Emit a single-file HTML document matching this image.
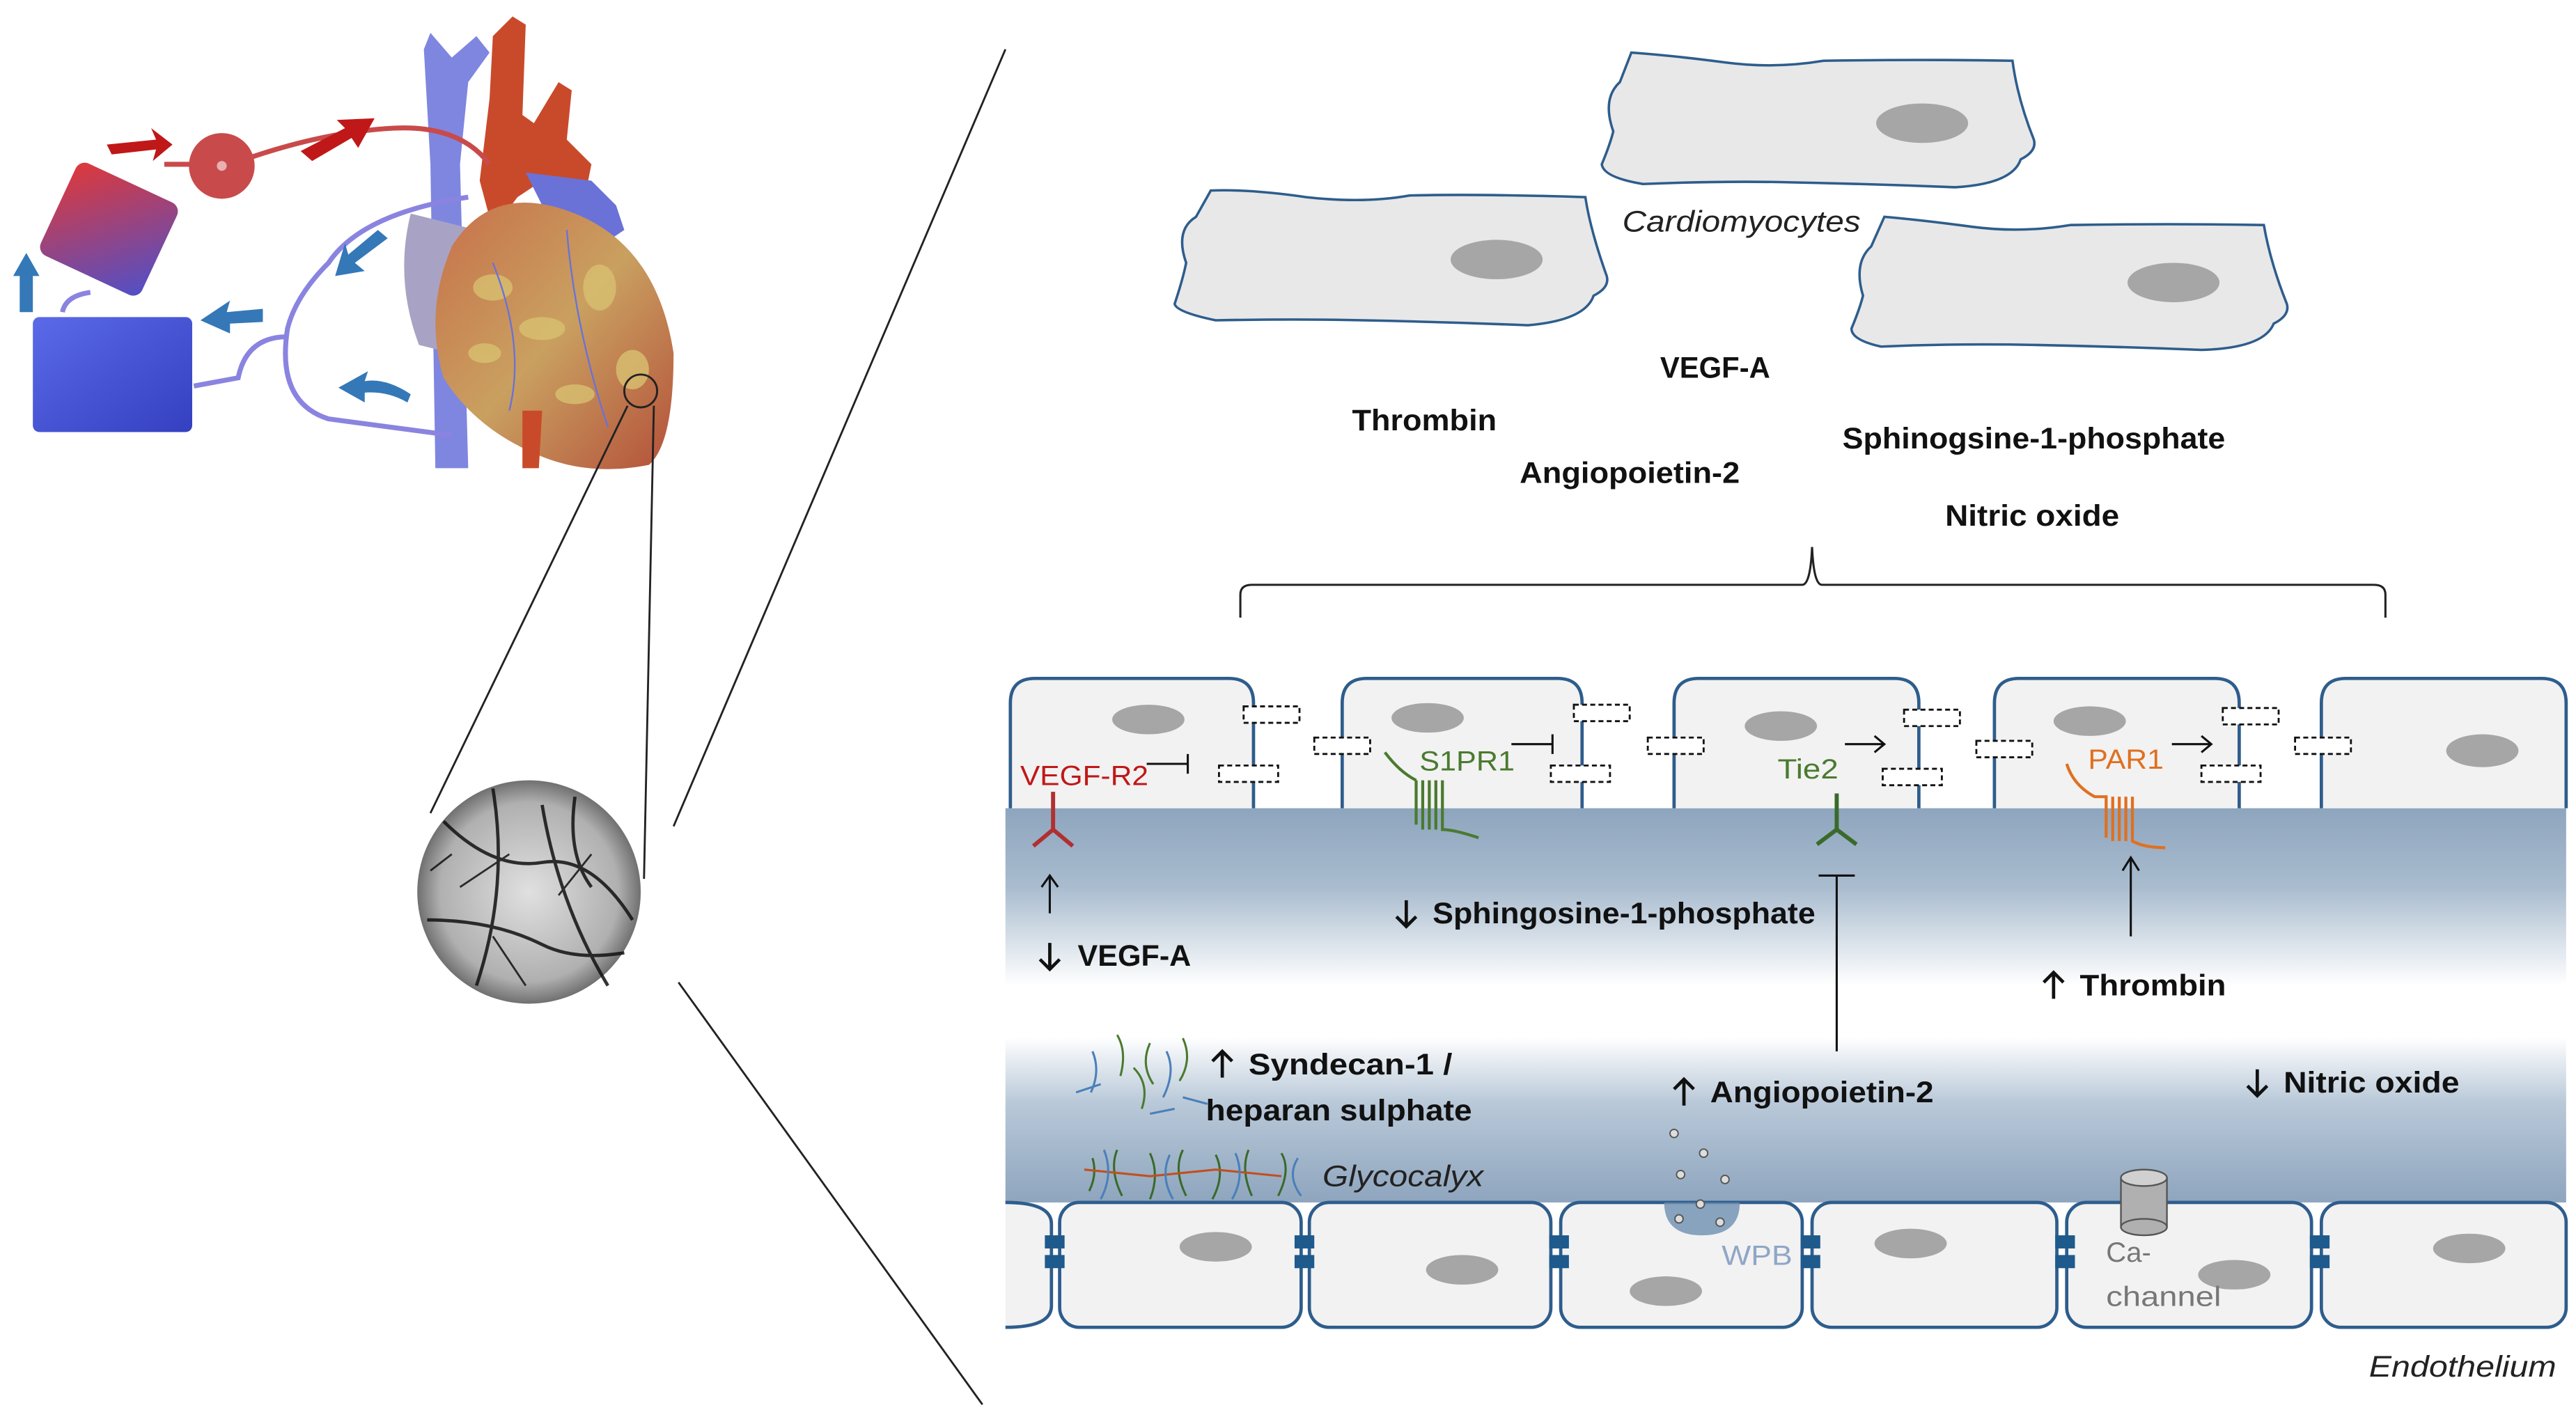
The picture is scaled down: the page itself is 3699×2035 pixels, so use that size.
<!DOCTYPE html>
<html><head><meta charset="utf-8"><style>html,body{margin:0;padding:0;background:#fff}svg{display:block}</style></head><body>
<svg width="3699" height="2035" viewBox="0 0 1568 862.6" preserveAspectRatio="none" xmlns="http://www.w3.org/2000/svg" font-family="Liberation Sans, sans-serif">
<defs>
<linearGradient id="band" x1="0" y1="0" x2="0" y2="1">
<stop offset="0" stop-color="#8ea5be"/>
<stop offset="0.2" stop-color="#a9bccf"/>
<stop offset="0.45" stop-color="#ffffff"/>
<stop offset="0.58" stop-color="#ffffff"/>
<stop offset="0.75" stop-color="#b8c8d8"/>
<stop offset="1" stop-color="#8ea5be"/>
</linearGradient>
<radialGradient id="ang" cx="0.5" cy="0.5" r="0.5"><stop offset="0" stop-color="#e0e0e0"/><stop offset="0.8" stop-color="#b0b0b0"/><stop offset="1" stop-color="#707070"/></radialGradient>
<linearGradient id="heartg" x1="0" y1="0" x2="1" y2="1"><stop offset="0" stop-color="#c8704a"/><stop offset="0.5" stop-color="#c9a060"/><stop offset="1" stop-color="#b4503a"/></linearGradient>
<linearGradient id="oxy" x1="0" y1="0" x2="1" y2="1"><stop offset="0" stop-color="#e03838"/><stop offset="1" stop-color="#5050c8"/></linearGradient>
<linearGradient id="res" x1="0" y1="0" x2="1" y2="1"><stop offset="0" stop-color="#5a6ae8"/><stop offset="1" stop-color="#3440c0"/></linearGradient>
</defs>
<rect width="1568" height="863" fill="#fff"/>

<!-- Left heart illustration -->
<g>
<path d="M258 30 L262 20 L275 35 L290 22 L298 32 L285 50 L280 100 L285 285 L265 285 L262 100 Z" fill="#7f86e0"/>
<path d="M300 22 L312 10 L320 15 L318 70 L325 75 L340 50 L348 55 L345 85 L360 100 L355 125 L330 110 L315 120 L300 140 L292 110 L298 60 Z" fill="#c94a2a"/>
<path d="M250 130 Q240 170 255 210 L275 215 L290 140 Z" fill="#a8a3c4"/>
<path d="M320 105 L360 110 L375 125 L380 140 L365 150 L335 135 Z" fill="#6a72d8"/>
<path d="M275 150 Q300 110 350 130 Q400 150 410 215 Q410 270 395 283 Q360 290 330 278 Q290 262 270 230 Q258 190 275 150 Z" fill="url(#heartg)"/>
<g fill="#d8c070" opacity="0.8">
<ellipse cx="300" cy="175" rx="12" ry="8"/><ellipse cx="330" cy="200" rx="14" ry="7"/><ellipse cx="365" cy="175" rx="10" ry="14"/><ellipse cx="385" cy="225" rx="10" ry="12"/><ellipse cx="295" cy="215" rx="10" ry="6"/><ellipse cx="350" cy="240" rx="12" ry="6"/>
</g>
<g stroke="#6a72d8" stroke-width="1" fill="none"><path d="M345 140 Q350 200 370 260"/><path d="M300 160 Q320 210 310 250"/></g>
<path d="M318 250 L330 250 L328 285 L318 285 Z" fill="#c94a2a"/>
<!-- tubes -->
<path d="M100 100 L125 100 Q140 100 155 95 Q200 80 240 78 Q280 76 298 100" fill="none" stroke="#c94a4a" stroke-width="3"/>
<path d="M285 120 Q220 130 200 160 Q180 180 175 200 Q168 245 200 255 L275 265" fill="none" stroke="#8a84e0" stroke-width="3"/>
<path d="M175 205 Q150 205 145 230 L118 235" fill="none" stroke="#8a84e0" stroke-width="3"/>
<path d="M38 190 Q40 180 55 178" fill="none" stroke="#8a84e0" stroke-width="3"/>
<circle cx="135" cy="101" r="20" fill="#c94a4a"/>
<circle cx="135" cy="101" r="3" fill="#e8b0b0"/>
<g transform="rotate(25 65 140)"><rect x="32" y="108" width="68" height="62" rx="6" fill="url(#oxy)"/></g>
<rect x="20" y="193" width="97" height="70" rx="4" fill="url(#res)"/>
<!-- arrows -->
<path d="M65 88 L95 85 L92 78 L105 88 L93 98 L95 91 L68 94 Z" fill="#c01818"/>
<path d="M183 92 L210 78 L205 73 L228 72 L218 90 L214 84 L190 98 Z" fill="#c01818"/>
<path d="M12 190 L12 168 L8 168 L16 154 L24 168 L20 168 L20 190 Z" fill="#3478b8"/>
<path d="M230 140 L212 155 L210 148 L204 168 L222 165 L216 160 L236 145 Z" fill="#3478b8"/>
<path d="M160 188 L138 190 L140 183 L122 195 L140 203 L140 197 L160 196 Z" fill="#3478b8"/>
<path d="M250 240 Q235 230 222 232 L224 226 L206 236 L222 245 L222 239 Q236 238 248 245 Z" fill="#3478b8"/>
<circle cx="390" cy="238" r="10" fill="none" stroke="#222" stroke-width="1.2"/>
</g>
<line x1="382" y1="247" x2="262" y2="495" stroke="#222" stroke-width="1.2"/>
<line x1="398" y1="247" x2="392" y2="535" stroke="#222" stroke-width="1.2"/>
<circle cx="322" cy="543" r="68" fill="url(#ang)"/>
<g stroke="#111" stroke-width="2" fill="none" opacity="0.85">
<path d="M270 500 Q300 530 330 525 Q360 520 385 560"/><path d="M300 480 Q310 540 290 600"/><path d="M330 490 Q340 550 370 600"/><path d="M260 560 Q300 560 330 575 Q350 585 380 580"/><path d="M350 485 Q345 520 360 540"/>
<path d="M310 520 L280 540 M340 545 L360 520 M300 570 L320 600 M275 520 L262 530" stroke-width="1.2"/>
</g>
<line x1="612" y1="30" x2="410" y2="503" stroke="#222" stroke-width="1.2"/>
<line x1="413" y1="598" x2="598" y2="855" stroke="#222" stroke-width="1.2"/>

<!-- Cardiomyocytes -->
<g fill="#e8e8e8" stroke="#2e5d8c" stroke-width="1.5">
<path d="M737 116 Q760 115 795 120 Q830 124 858 119 Q900 118 965 120 Q968 140 978 168 Q980 175 970 180 Q965 195 930 198 Q880 196 830 195 Q790 194 740 195 Q716 190 715 185 Q720 170 722 160 Q715 140 728 132 Z"/>
<path d="M993 32 Q1020 34 1050 38 Q1080 42 1110 37 Q1170 36 1225 37 Q1228 60 1238 85 Q1240 92 1230 97 Q1225 112 1190 114 Q1140 112 1090 111 Q1050 110 1000 112 Q976 108 975 100 Q980 88 982 80 Q975 60 986 50 Z"/>
<path d="M1147 132 Q1170 134 1200 138 Q1230 142 1260 137 Q1320 136 1378 137 Q1382 160 1392 185 Q1394 192 1384 197 Q1378 212 1340 213 Q1290 211 1240 210 Q1190 209 1145 211 Q1127 207 1127 200 Q1132 188 1134 180 Q1128 160 1139 150 Z"/>
</g>
<g fill="#a6a6a6"><ellipse cx="911" cy="158" rx="28" ry="12"/><ellipse cx="1170" cy="75" rx="28" ry="12"/><ellipse cx="1323" cy="172" rx="28" ry="12"/></g>
<text x="1060" y="141" font-size="18" font-style="italic" text-anchor="middle" fill="#222" textLength="145" lengthAdjust="spacingAndGlyphs">Cardiomyocytes</text>
<g font-size="18" font-weight="bold" fill="#111" text-anchor="middle">
<text x="1044" y="230" textLength="67" lengthAdjust="spacingAndGlyphs">VEGF-A</text>
<text x="867" y="262" textLength="88" lengthAdjust="spacingAndGlyphs">Thrombin</text>
<text x="992" y="294" textLength="134" lengthAdjust="spacingAndGlyphs">Angiopoietin-2</text>
<text x="1238" y="273" textLength="233" lengthAdjust="spacingAndGlyphs">Sphinogsine-1-phosphate</text>
<text x="1237" y="320" textLength="106" lengthAdjust="spacingAndGlyphs">Nitric oxide</text>
</g>
<path d="M755 376 L755 362 Q755 356 762 356 L1097 356 Q1102 356 1103 333 Q1104 356 1109 356 L1445 356 Q1452 356 1452 362 L1452 376" fill="none" stroke="#222" stroke-width="1.3"/>

<!-- Endothelium band -->
<rect x="612" y="492" width="950" height="240" fill="url(#band)"/>
<g fill="#f2f2f2" stroke="#2e5d8c" stroke-width="2">
<path d="M615 492 L615 428 Q615 413 630 413 L748 413 Q763 413 763 428 L763 492"/>
<path d="M817 492 L817 428 Q817 413 832 413 L948 413 Q963 413 963 428 L963 492"/>
<path d="M1019 492 L1019 428 Q1019 413 1034 413 L1153 413 Q1168 413 1168 428 L1168 492"/>
<path d="M1214 492 L1214 428 Q1214 413 1229 413 L1348 413 Q1363 413 1363 428 L1363 492"/>
<path d="M1413 492 L1413 428 Q1413 413 1428 413 L1547 413 Q1562 413 1562 428 L1562 492"/>
<path d="M612 732 Q640 732 640 745 L640 795 Q640 808 612 808"/>
<rect x="645" y="732" width="147" height="76" rx="12"/>
<rect x="797" y="732" width="147" height="76" rx="12"/>
<rect x="950" y="732" width="147" height="76" rx="12"/>
<rect x="1103" y="732" width="149" height="76" rx="12"/>
<rect x="1258" y="732" width="149" height="76" rx="12"/>
<rect x="1413" y="732" width="149" height="76" rx="12"/>
</g>
<g fill="#a6a6a6">
<ellipse cx="699" cy="438" rx="22" ry="9"/><ellipse cx="869" cy="437" rx="22" ry="9"/><ellipse cx="1084" cy="442" rx="22" ry="9"/><ellipse cx="1272" cy="439" rx="22" ry="9"/><ellipse cx="1511" cy="457" rx="22" ry="10"/>
<ellipse cx="740" cy="759" rx="22" ry="9"/><ellipse cx="890" cy="773" rx="22" ry="9"/><ellipse cx="1014" cy="786" rx="22" ry="9"/><ellipse cx="1163" cy="757" rx="22" ry="9"/><ellipse cx="1360" cy="776" rx="22" ry="9"/><ellipse cx="1503" cy="760" rx="22" ry="9"/>
</g>
<!-- dashed junctions -->
<g fill="#fff" stroke="#111" stroke-width="1.2" stroke-dasharray="3,2">
<rect x="757" y="430" width="34" height="10"/><rect x="742" y="466" width="36" height="10"/>
<rect x="800" y="449" width="34" height="10"/>
<rect x="958" y="429" width="34" height="10"/><rect x="944" y="466" width="36" height="10"/>
<rect x="1003" y="449" width="34" height="10"/>
<rect x="1159" y="432" width="34" height="10"/><rect x="1146" y="468" width="36" height="10"/>
<rect x="1203" y="451" width="34" height="10"/>
<rect x="1353" y="431" width="34" height="10"/><rect x="1340" y="466" width="36" height="10"/>
<rect x="1397" y="449" width="34" height="10"/>
</g>
<!-- bottom blue junctions -->
<g fill="#1e5a8c">
<rect x="636" y="752" width="12" height="8"/><rect x="636" y="764" width="12" height="8"/>
<rect x="788" y="752" width="12" height="8"/><rect x="788" y="764" width="12" height="8"/>
<rect x="943" y="752" width="12" height="8"/><rect x="943" y="764" width="12" height="8"/>
<rect x="1096" y="752" width="12" height="8"/><rect x="1096" y="764" width="12" height="8"/>
<rect x="1251" y="752" width="12" height="8"/><rect x="1251" y="764" width="12" height="8"/>
<rect x="1406" y="752" width="12" height="8"/><rect x="1406" y="764" width="12" height="8"/>
</g>
<!-- receptors -->
<g fill="none" stroke-width="2.5">
<path d="M641 482 L641 505 M629 515 L641 505 L653 515" stroke="#b03030"/>
<path d="M1118 483 L1118 505 M1106 514 L1118 505 L1130 514" stroke="#3a6a2a"/>
<path d="M843 458 Q852 470 862 475 M862 475 L862 502 M866 475 L866 505 M870 475 L870 505 M874 475 L874 505 M878 475 L878 505 Q885 505 900 510" stroke="#4a7a30" stroke-width="1.8"/>
<path d="M1258 465 Q1262 478 1275 485 L1282 485 L1282 510 M1286 485 L1286 512 M1290 485 L1290 512 M1294 485 L1294 512 M1298 485 L1298 512 Q1305 516 1318 516" stroke="#e07020" stroke-width="1.8"/>
</g>
<g font-size="17" fill="#111">
<text x="621" y="478" fill="#c01818" textLength="78" lengthAdjust="spacingAndGlyphs">VEGF-R2</text>
<text x="864" y="469" fill="#4a7a30" textLength="58" lengthAdjust="spacingAndGlyphs">S1PR1</text>
<text x="1082" y="474" fill="#4a7a30" textLength="37" lengthAdjust="spacingAndGlyphs">Tie2</text>
<text x="1271" y="468" fill="#e07020" textLength="46" lengthAdjust="spacingAndGlyphs">PAR1</text>
</g>
<!-- inhibit / activation lines -->
<g stroke="#111" stroke-width="1.3" fill="none">
<path d="M698 465 L723 465 M723 459 L723 471"/>
<path d="M920 453 L945 453 M945 447 L945 459"/>
<path d="M1123 453 L1147 453 M1141 448 L1147 453 L1141 458"/>
<path d="M1322 453 L1346 453 M1340 448 L1346 453 L1340 458"/>
<path d="M639 556 L639 533 M634 540 L639 533 L644 540"/>
<path d="M1118 640 L1118 533 M1107 533 L1129 533"/>
<path d="M1297 570 L1297 522 M1292 530 L1297 522 L1302 530"/>
</g>
<!-- small up/down arrows drawn -->
<g stroke="#111" stroke-width="2" fill="none">
<path d="M639 574 L639 590 M633 584 L639 590 L645 584"/>
<path d="M856 548 L856 564 M850 558 L856 564 L862 558"/>
<path d="M1250 608 L1250 592 M1244 598 L1250 592 L1256 598"/>
<path d="M744 656 L744 640 M738 646 L744 640 L750 646"/>
<path d="M1025 673 L1025 657 M1019 663 L1025 657 L1031 663"/>
<path d="M1374 651 L1374 667 M1368 661 L1374 667 L1380 661"/>
</g>
<g font-size="18" font-weight="bold" fill="#111">
<text x="656" y="588" textLength="69" lengthAdjust="spacingAndGlyphs">VEGF-A</text>
<text x="872" y="562" textLength="233" lengthAdjust="spacingAndGlyphs">Sphingosine-1-phosphate</text>
<text x="1266" y="606" textLength="89" lengthAdjust="spacingAndGlyphs">Thrombin</text>
<text x="760" y="654" textLength="124" lengthAdjust="spacingAndGlyphs">Syndecan-1 /</text>
<text x="734" y="682" textLength="162" lengthAdjust="spacingAndGlyphs">heparan sulphate</text>
<text x="1041" y="671" textLength="136" lengthAdjust="spacingAndGlyphs">Angiopoietin-2</text>
<text x="1390" y="665" textLength="107" lengthAdjust="spacingAndGlyphs">Nitric oxide</text>
</g>
<text x="805" y="722" font-size="18" font-style="italic" fill="#222" textLength="98" lengthAdjust="spacingAndGlyphs">Glycocalyx</text>
<text x="1556" y="838" font-size="18" font-style="italic" fill="#222" text-anchor="end" textLength="114" lengthAdjust="spacingAndGlyphs">Endothelium</text>
<!-- glycocalyx strands -->
<g fill="none" stroke-width="1.3">
<path d="M665 705 Q668 715 663 725 M680 700 Q675 712 683 728 M700 702 Q706 715 700 730 M720 700 Q714 712 722 728 M740 703 Q746 715 738 730 M760 700 Q755 712 762 728 M780 702 Q786 712 778 728" stroke="#3a6a2a"/>
<path d="M660 712 L700 716 L740 712 L780 716" stroke="#c05020"/>
<path d="M672 700 Q678 715 670 730 M712 703 Q706 716 714 730 M752 702 Q758 716 750 730 M790 705 Q783 716 792 728" stroke="#4a80b8"/>
<path d="M680 630 Q686 640 682 655 M700 635 Q694 648 702 660 M720 632 Q726 645 718 658 M690 650 Q700 660 695 675" stroke="#4a7a30"/>
<path d="M665 640 Q670 652 664 665 M710 640 Q716 652 708 668 M655 665 L670 660 M720 668 L735 672 M700 678 L715 675" stroke="#4a80b8"/>
</g>
<!-- WPB -->
<path d="M1013 732 Q1013 752 1036 752 Q1059 752 1059 732 Z" fill="#6d8fb0" opacity="0.8"/>
<g fill="#ddd" stroke="#555" stroke-width="0.8">
<circle cx="1019" cy="690" r="2.5"/><circle cx="1037" cy="702" r="2.5"/><circle cx="1023" cy="715" r="2.5"/><circle cx="1050" cy="718" r="2.5"/><circle cx="1035" cy="733" r="2.5"/><circle cx="1022" cy="742" r="2.5"/><circle cx="1047" cy="744" r="2.5"/>
</g>
<text x="1048" y="770" font-size="17" fill="#8fa6c6" textLength="43" lengthAdjust="spacingAndGlyphs">WPB</text>
<!-- Ca channel -->
<rect x="1291" y="717" width="28" height="30" fill="#b0b0b0" stroke="#555" stroke-width="1"/>
<ellipse cx="1305" cy="717" rx="14" ry="5" fill="#d0d0d0" stroke="#555" stroke-width="1"/>
<ellipse cx="1305" cy="747" rx="14" ry="5" fill="#b0b0b0" stroke="#555" stroke-width="1"/>
<text x="1282" y="768" font-size="17" fill="#777">Ca-</text>
<text x="1282" y="795" font-size="17" fill="#777" textLength="70" lengthAdjust="spacingAndGlyphs">channel</text>
</svg>
</body></html>
